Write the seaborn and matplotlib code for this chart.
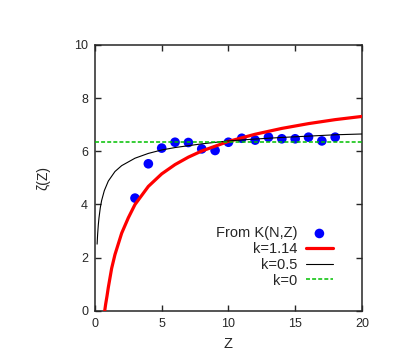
import matplotlib
matplotlib.use("Agg")
import matplotlib.pyplot as plt
import seaborn as sns
import pandas as pd

# points from K(N,Z)
z_points = [3, 4, 5, 6, 7, 8, 9, 10, 11, 12, 13, 14, 15, 16, 17, 18]
zeta_points = [4.24, 5.53, 6.12, 6.34, 6.33, 6.09, 6.03, 6.34, 6.49, 6.42,
               6.53, 6.47, 6.47, 6.53, 6.39, 6.53]

# curve k=1.14
z_k114 = [0.73, 0.8, 0.9, 1.0, 1.25, 1.5, 2.0, 2.5, 3.0, 4.0, 5.0, 6.0, 7.0,
          8.0, 10.0, 12.0, 14.0, 16.0, 18.0, 20.0]
zeta_k114 = [0.0, 0.25, 0.55, 0.88, 1.6, 2.12, 2.92, 3.5, 4.0, 4.68, 5.15,
             5.5, 5.78, 6.01, 6.37, 6.64, 6.86, 7.04, 7.19, 7.31]

# curve k=0.5
z_k05 = [0.16, 0.2, 0.25, 0.3, 0.4, 0.5, 0.7, 1.0, 1.5, 2.0, 3.0, 4.0, 5.0,
         6.0, 8.0, 10.0, 12.0, 14.0, 16.0, 18.0, 20.0]
zeta_k05 = [2.51, 2.88, 3.23, 3.49, 3.88, 4.15, 4.52, 4.88, 5.24, 5.46, 5.74,
            5.92, 6.05, 6.14, 6.28, 6.39, 6.46, 6.52, 6.57, 6.62, 6.65]

# k=0 (flat)
z_k0 = [0, 20]
zeta_k0 = [6.34, 6.34]

sns.set_style("ticks")
plt.rcParams['font.family'] = ['Liberation Sans', 'DejaVu Sans']

fig = plt.figure(figsize=(3.99, 3.59), dpi=100)
ax = fig.add_axes([0.238, 0.134, 0.669, 0.741])

df_pts = pd.DataFrame({'Z': z_points, 'zeta': zeta_points})
sns.scatterplot(data=df_pts, x='Z', y='zeta', ax=ax, color='#0000ff', s=48,
                edgecolor='none', label='From K(N,Z)', zorder=2)

sns.lineplot(x=z_k114, y=zeta_k114, ax=ax, color='#ff0000', lw=2.3,
             sort=False, estimator=None, label='k=1.14', zorder=3)
sns.lineplot(x=z_k05, y=zeta_k05, ax=ax, color='black', lw=0.8,
             sort=False, estimator=None, label='k=0.5', zorder=3)
sns.lineplot(x=z_k0, y=zeta_k0, ax=ax, color='#00c000', lw=1.1,
             sort=False, estimator=None, label='k=0', zorder=3,
             dashes=False)
ax.lines[-1].set_dashes((2.6, 1.4))

ax.set_xlim(0, 20)
ax.set_ylim(0, 10)
ax.set_xticks([0, 5, 10, 15, 20])
ax.set_yticks([0, 2, 4, 6, 8, 10])
ax.tick_params(direction='in', length=4.5, width=1, labelsize=9,
               top=True, right=True, pad=5)
for sp in ax.spines.values():
    sp.set_linewidth(1.1)
    sp.set_visible(True)

ax.set_xlabel('Z', fontsize=10.5, labelpad=5)
ax.set_ylabel('ζ(Z)', fontsize=10, labelpad=17)

handles, labels = ax.get_legend_handles_labels()
ax.legend(handles, labels, loc='upper right', bbox_to_anchor=(0.89, 0.318),
          frameon=False, markerfirst=False, fontsize=10.5, handlelength=1.8,
          handletextpad=0.6, labelspacing=0.12, borderpad=0, borderaxespad=0)

fig.savefig('out.png', dpi=100)
